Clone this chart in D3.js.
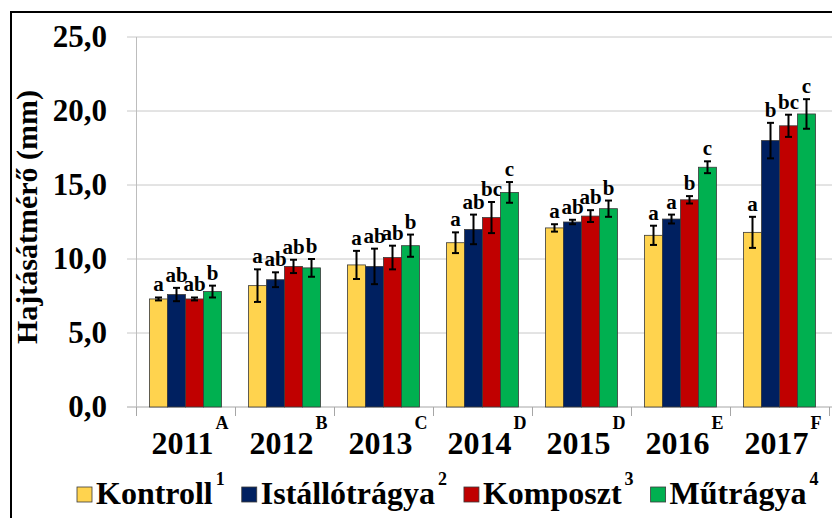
<!DOCTYPE html>
<html>
<head>
<meta charset="utf-8">
<script src="https://cdn.jsdelivr.net/npm/d3@7"></script>
<style>
	body { margin: 0; background: #fff; }
	svg text { font-family: 'Liberation Serif', 'DejaVu Serif', serif; font-weight: 700; fill: #000; }
</style>
</head>
<body>
<svg id="chart" width="832" height="518" font-family="Liberation Serif, DejaVu Serif, serif"></svg>
<script>
var years = ["2011", "2012", "2013", "2014", "2015", "2016", "2017"];
var year_letters = ["A", "B", "C", "D", "D", "E", "F"];
var series_names = ["Kontroll", "Istállótrágya", "Komposzt", "Műtrágya"];
var series_marks = ["1", "2", "3", "4"];
var series_colors = ["#FFD34E", "#002060", "#C00000", "#00B050"];

var kontroll = [7.3, 8.2, 9.6, 11.1, 12.1, 11.6, 11.8];
var istallo = [7.6, 8.6, 9.5, 12.0, 12.5, 12.7, 18.0];
var komposzt = [7.3, 9.5, 10.1, 12.8, 12.9, 14.0, 19.0];
var mutragya = [7.8, 9.4, 10.9, 14.5, 13.4, 16.2, 19.8];

var kontroll_err = [0.1, 1.1, 0.95, 0.7, 0.25, 0.65, 1.05];
var istallo_err = [0.45, 0.5, 1.2, 1.0, 0.15, 0.3, 1.2];
var komposzt_err = [0.1, 0.45, 0.8, 1.05, 0.4, 0.25, 0.75];
var mutragya_err = [0.4, 0.6, 0.75, 0.7, 0.55, 0.4, 1.0];

var kontroll_sig = ["a", "a", "a", "a", "a", "a", "a"];
var istallo_sig = ["ab", "ab", "ab", "ab", "ab", "a", "b"];
var komposzt_sig = ["ab", "ab", "ab", "bc", "ab", "b", "bc"];
var mutragya_sig = ["b", "b", "b", "c", "b", "c", "c"];

var y_ticks = [0, 5, 10, 15, 20, 25];

var all_values = [kontroll, istallo, komposzt, mutragya];
var all_errors = [kontroll_err, istallo_err, komposzt_err, mutragya_err];
var all_sigs = [kontroll_sig, istallo_sig, komposzt_sig, mutragya_sig];

var svg = d3.select("#chart");

var x0 = d3.scaleBand().domain(years).range([136, 829]).paddingInner(0).paddingOuter(0);
var x1 = d3.scaleBand().domain(d3.range(4)).range([0, x0.bandwidth()]).paddingInner(0).paddingOuter(0.75);
var y = d3.scaleLinear().domain([0, 25]).range([407, 37]);

function serif_text(sel, size){
	return sel
		.attr("font-family", "Liberation Serif, DejaVu Serif, serif")
		.attr("font-weight", "bold")
		.attr("font-size", size);
}

// outer frame, only left and top edges show
svg.append("rect")
	.attr("x", 11).attr("y", 12)
	.attr("width", 900).attr("height", 600)
	.attr("fill", "none")
	.attr("stroke", "#000")
	.attr("stroke-width", 2);

// gridlines
svg.selectAll(".grid").data(y_ticks).enter()
	.append("line")
	.attr("class", "grid")
	.attr("x1", 127).attr("x2", 832)
	.attr("y1", function(d){ return y(d); })
	.attr("y2", function(d){ return y(d); })
	.attr("stroke", function(d){ return d === 0 ? "#a6a6a6" : "#c8c8c8"; })
	.attr("stroke-width", 1);

// y axis line
svg.append("line")
	.attr("x1", 136.5).attr("x2", 136.5)
	.attr("y1", y(25)).attr("y2", y(0))
	.attr("stroke", "#bdbdbd");

// category boundary ticks
var boundaries = years.map(function(d){ return x0(d); });
boundaries.push(x0.range()[1]);
svg.selectAll(".xtick").data(boundaries).enter()
	.append("line")
	.attr("x1", function(d){ return Math.round(d) + 0.5; })
	.attr("x2", function(d){ return Math.round(d) + 0.5; })
	.attr("y1", y(0)).attr("y2", y(0) + 9)
	.attr("stroke", "#a6a6a6");

// y tick labels
serif_text(svg.selectAll(".ylabel").data(y_ticks).enter()
	.append("text")
	.attr("x", 107)
	.attr("y", function(d){ return y(d) + 10; })
	.attr("text-anchor", "end"), 31)
	.text(function(d){ return d3.format(".1f")(d).replace(".", ","); });

// y title
serif_text(svg.append("text")
	.attr("transform", "translate(37," + 217 + ") rotate(-90)")
	.attr("text-anchor", "middle"), 30)
	.text("Hajtásátmérő (mm)");

// bars
var groups = svg.selectAll(".year").data(years).enter()
	.append("g")
	.attr("transform", function(d){ return "translate(" + x0(d) + ",0)"; });

groups.each(function(year, yi){
	var g = d3.select(this);
	for (var s = 0; s < 4; s++){
		var v = all_values[s][yi];
		var e = all_errors[s][yi];
		var bx = x1(s);
		var bw = x1.bandwidth();
		var cx = bx + bw / 2;
		g.append("rect")
			.attr("x", bx).attr("y", y(v))
			.attr("width", bw).attr("height", y(0) - y(v))
			.attr("fill", series_colors[s])
			.attr("stroke", "#3a3a3a")
			.attr("stroke-width", 0.8);
		g.append("line")
			.attr("x1", cx).attr("x2", cx)
			.attr("y1", y(v + e)).attr("y2", y(v - e))
			.attr("stroke", "#000").attr("stroke-width", 2);
		[v + e, v - e].forEach(function(t){
			g.append("line")
				.attr("x1", cx - 3.5).attr("x2", cx + 3.5)
				.attr("y1", y(t)).attr("y2", y(t))
				.attr("stroke", "#000").attr("stroke-width", 2);
		});
		serif_text(g.append("text")
			.attr("x", cx)
			.attr("y", y(v + e) - 6)
			.attr("text-anchor", "middle"), 21)
			.text(all_sigs[s][yi]);
	}
});

// year labels with letters
years.forEach(function(year, i){
	var cx = x0(year) + x0.bandwidth() / 2 - 3;
	var t = serif_text(svg.append("text")
		.attr("x", cx)
		.attr("y", 454)
		.attr("text-anchor", "middle"), 32)
		.text(year);
	var w = t.node().getComputedTextLength();
	serif_text(svg.append("text")
		.attr("x", cx + w / 2 + 2)
		.attr("y", 429), 18)
		.text(year_letters[i]);
});

// legend
var legend = svg.append("g").attr("class", "legend");
var lx = 77;
series_names.forEach(function(name, i){
	legend.append("rect")
		.attr("x", lx).attr("y", 487)
		.attr("width", 15).attr("height", 15)
		.attr("fill", series_colors[i])
		.attr("stroke", "#3a3a3a")
		.attr("stroke-width", 0.8);
	var t = serif_text(legend.append("text")
		.attr("x", lx + 19)
		.attr("y", 504), 32)
		.text(name);
	var w = t.node().getComputedTextLength();
	var m = serif_text(legend.append("text")
		.attr("x", lx + 19 + w + 3)
		.attr("y", 485), 18)
		.text(series_marks[i]);
	lx = lx + 19 + w + 3 + m.node().getComputedTextLength() + 17;
});
</script>
</body>
</html>
